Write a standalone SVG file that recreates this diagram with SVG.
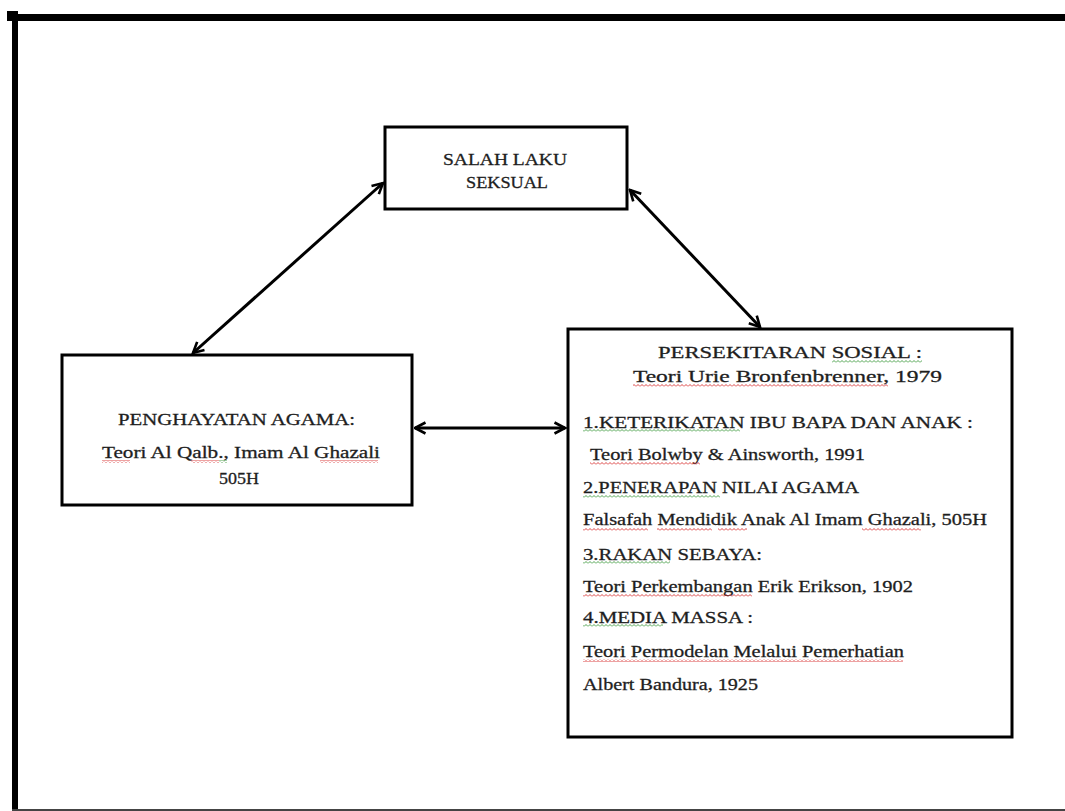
<svg xmlns="http://www.w3.org/2000/svg" width="1065" height="811" viewBox="0 0 1065 811">
<style>
.box{fill:#fff;stroke:#000;stroke-width:3}
.t{font-family:"Liberation Serif","Times New Roman",serif;fill:#1e1e1e;stroke:#1e1e1e;stroke-width:0.3;font-size:17px}
.c{text-anchor:middle}
.con{stroke:#000;stroke-width:3;fill:none;marker-start:url(#arr);marker-end:url(#arr)}
</style>
<defs>
<marker id="arr" viewBox="0 0 14 14" refX="12.5" refY="7" markerWidth="14" markerHeight="14" markerUnits="userSpaceOnUse" orient="auto-start-reverse">
<path d="M2,1.5 L12.5,7 L2,12.5" fill="none" stroke="#000" stroke-width="2.6" stroke-linejoin="miter"/>
</marker>
<pattern id="wr" width="4" height="3" patternUnits="userSpaceOnUse"><path d="M0,2.5 L2,0.5 L4,2.5" fill="none" stroke="#d83030" stroke-width="0.9"/></pattern>
<pattern id="wg" width="4" height="3" patternUnits="userSpaceOnUse"><path d="M0,2.5 L2,0.5 L4,2.5" fill="none" stroke="#3c9a3c" stroke-width="0.9"/></pattern>
</defs>
<rect width="1065" height="811" fill="#fff"/>
<g id="frame">
<rect x="12" y="11" width="6" height="800" fill="#000"/>
<rect x="7" y="14" width="1058" height="7" fill="#000"/>
<rect x="7" y="11" width="11" height="10" fill="#000"/>
<rect x="12" y="809" width="1053" height="2" fill="#444"/>
</g>
<g id="connectors">
<line class="con" x1="193" y1="353" x2="383" y2="183"/>
<line class="con" x1="630" y1="190" x2="760" y2="327"/>
<line class="con" x1="415" y1="428" x2="565" y2="428"/>
</g>
<g id="node-salah-laku">
<rect class="box" x="385" y="127" width="242" height="82"/>
<text class="t c" x="505" y="165" font-size="16.5" textLength="124" lengthAdjust="spacingAndGlyphs">SALAH LAKU</text>
<text class="t c" x="507" y="188" font-size="16.5" textLength="82" lengthAdjust="spacingAndGlyphs">SEKSUAL</text>
</g>
<g id="node-penghayatan">
<rect class="box" x="62" y="355" width="350" height="150"/>
<text class="t" x="118" y="425" font-size="16" textLength="237" lengthAdjust="spacingAndGlyphs">PENGHAYATAN  AGAMA:</text>
<text class="t" x="102" y="458" font-size="16" textLength="278" lengthAdjust="spacingAndGlyphs">Teori  Al Qalb., Imam Al Ghazali</text>
<text class="t c" x="239" y="484" font-size="16.5" textLength="40" lengthAdjust="spacingAndGlyphs">505H</text>
<rect x="102" y="460" width="28" height="3" fill="url(#wr)"/>
<rect x="191" y="460" width="28" height="3" fill="url(#wr)"/>
<rect x="219" y="460" width="8" height="3" fill="url(#wg)"/>
<rect x="320" y="460" width="58" height="3" fill="url(#wr)"/>
</g>
<g id="node-persekitaran">
<rect class="box" x="568" y="329" width="444" height="408"/>
<text class="t" x="658" y="358" font-size="18" textLength="264" lengthAdjust="spacingAndGlyphs">PERSEKITARAN SOSIAL :</text>
<text class="t" x="633" y="382" font-size="18" textLength="309" lengthAdjust="spacingAndGlyphs">Teori Urie Bronfenbrenner, 1979</text>
<text class="t" x="583" y="428" textLength="390" lengthAdjust="spacingAndGlyphs">1.KETERIKATAN  IBU BAPA DAN ANAK :</text>
<text class="t" x="590" y="460" textLength="275" lengthAdjust="spacingAndGlyphs">Teori Bolwby &amp; Ainsworth, 1991</text>
<text class="t" x="583" y="493" textLength="276" lengthAdjust="spacingAndGlyphs">2.PENERAPAN NILAI  AGAMA</text>
<text class="t" x="583" y="525" textLength="404" lengthAdjust="spacingAndGlyphs">Falsafah Mendidik Anak Al Imam Ghazali,  505H</text>
<text class="t" x="583" y="560" textLength="179" lengthAdjust="spacingAndGlyphs">3.RAKAN SEBAYA:</text>
<text class="t" x="583" y="592" textLength="330" lengthAdjust="spacingAndGlyphs">Teori Perkembangan  Erik Erikson, 1902</text>
<text class="t" x="583" y="623" textLength="170" lengthAdjust="spacingAndGlyphs">4.MEDIA  MASSA :</text>
<text class="t" x="583" y="657" textLength="321" lengthAdjust="spacingAndGlyphs">Teori Permodelan Melalui Pemerhatian</text>
<text class="t" x="583" y="690" textLength="175" lengthAdjust="spacingAndGlyphs">Albert Bandura, 1925</text>
<rect x="832" y="360" width="90" height="3" fill="url(#wg)"/>
<rect x="633" y="384" width="255" height="3" fill="url(#wr)"/>
<rect x="583" y="429" width="157" height="3" fill="url(#wg)"/>
<rect x="590" y="462" width="110" height="3" fill="url(#wr)"/>
<rect x="583" y="495" width="137" height="3" fill="url(#wg)"/>
<rect x="583" y="528" width="65" height="3" fill="url(#wr)"/>
<rect x="657" y="528" width="55" height="3" fill="url(#wr)"/>
<rect x="718" y="528" width="29" height="3" fill="url(#wr)"/>
<rect x="862" y="528" width="59" height="3" fill="url(#wr)"/>
<rect x="583" y="561" width="87" height="3" fill="url(#wg)"/>
<rect x="583" y="594" width="169" height="3" fill="url(#wr)"/>
<rect x="583" y="624" width="80" height="3" fill="url(#wg)"/>
<rect x="583" y="659" width="320" height="3" fill="url(#wr)"/>
</g>
</svg>
